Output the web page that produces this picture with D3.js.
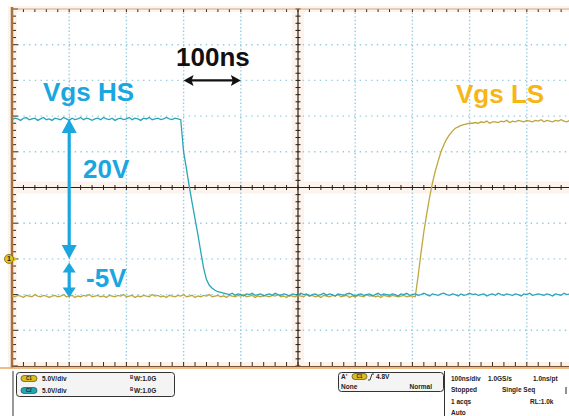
<!DOCTYPE html>
<html>
<head>
<meta charset="utf-8">
<script src="https://cdn.jsdelivr.net/npm/d3@7"></script>
<style>
  body { margin: 0; background: #fff; }
  svg { display: block; font-family: "Liberation Sans", Arial, sans-serif; }
</style>
</head>
<body>
<svg width="569" height="416"></svg>
<script>
// scope settings
const timeDomain = [-500, 500]      // ns, 100 ns/div
const voltDomain = [-15, 35]        // V, 5 V/div, ch1 ground 3 div above bottom
const xGrid = [-500, -400, -300, -200, -100, 0, 100, 200, 300, 400, 500]
const yGrid = [-15, -10, -5, 0, 5, 10, 15, 20, 25, 30, 35]
const sampleStart = -500
const sampleStep = 5

// Vgs HS (ch2) samples, one every 5 ns from -500 ns
const hsVolts = [
  19.5,19.7,19.6,19.4,19.7,19.8,19.5,19.6,19.7,19.4,
  19.6,19.8,19.5,19.6,19.4,19.7,19.6,19.5,19.8,19.6,
  19.4,19.7,19.5,19.6,19.8,19.5,19.7,19.6,19.4,19.6,
  19.7,19.5,19.8,19.6,19.5,19.7,19.4,19.6,19.7,19.5,
  19.6,19.8,19.5,19.7,19.6,19.4,19.7,19.6,19.8,19.5,
  19.6,19.7,19.5,19.6,19.8,19.6,19.5,19.7,19.6,
  19.5,15.0,12.6,10.1,7.8,5.6,3.4,1.0,-1.3,-2.9,-3.7,-4.1,-4.4,-4.6,-4.7,-4.8,
  -4.9,-5.0,-4.8,-5.1,-4.9,-5.0,-5.2,-4.9,-5.0,-4.8,
  -5.1,-5.0,-4.9,-5.2,-5.0,-4.9,-5.1,-4.8,-5.0,-5.1,
  -4.9,-5.0,-5.2,-4.9,-5.0,-5.1,-4.8,-5.0,-4.9,-5.2,
  -5.0,-4.9,-5.1,-5.0,-4.8,-5.1,-4.9,-5.0,-5.2,-4.9,
  -5.0,-5.1,-4.9,-4.8,-5.0,-5.2,-5.0,-4.9,-5.1,-5.0,
  -4.9,-5.2,-5.0,-4.8,-5.1,-4.9,-5.0,-5.1,-4.9,-5.0,
  -5.2,-4.9,-5.0,-4.8,-5.1,-5.0,-4.9,-5.1,-5.0,-4.8,
  -5.0,-5.2,-4.9,-5.0,-5.1,-4.9,-4.8,-5.0,-5.1,-4.9,
  -5.0,-5.2,-4.9,-5.1,-5.0,-4.8,-5.0,-4.9,-5.1,-5.0,
  -4.9,-5.2,-5.0,-4.9,-5.1,-4.8,-5.0,-5.1,-4.9,-5.0,
  -5.1,-4.9,-5.0,-5.2,-4.9,-5.0,-4.8,-5.1,-5.0,-4.9,
  -5.0,-5.1,-4.9,-5.0,-5.2,-4.9,-5.0,-5.1,-4.8,-5.0,
  -4.9
]

// Vgs LS (ch1) samples, same timebase
const lsVolts = [
  -5.2,-5.3,-5.1,-5.2,-5.4,-5.1,-5.2,-5.3,-5.0,-5.2,
  -5.3,-5.1,-5.2,-5.4,-5.2,-5.1,-5.3,-5.2,-5.0,-5.3,
  -5.2,-5.1,-5.4,-5.2,-5.3,-5.1,-5.2,-5.0,-5.3,-5.2,
  -5.1,-5.3,-5.2,-5.4,-5.1,-5.2,-5.3,-5.1,-5.2,-5.0,
  -5.3,-5.2,-5.1,-5.4,-5.2,-5.3,-5.1,-5.2,-5.3,-5.0,
  -5.2,-5.1,-5.3,-5.2,-5.4,-5.1,-5.2,-5.3,-5.1,-5.2,
  -5.0,-5.3,-5.2,-5.1,-5.4,-5.2,-5.3,-5.1,-5.2,-5.0,
  -5.3,-5.2,-5.1,-5.3,-5.2,-5.4,-5.1,-5.2,-5.3,-5.1,
  -5.2,-5.0,-5.3,-5.2,-5.1,-5.4,-5.2,-5.3,-5.1,-5.2,
  -5.3,-5.1,-5.2,-5.0,-5.3,-5.2,-5.4,-5.1,-5.2,-5.3,
  -5.1,-5.2,-5.3,-5.0,-5.2,-5.1,-5.3,-5.2,-5.4,-5.1,
  -5.2,-5.3,-5.1,-5.2,-5.0,-5.3,-5.2,-5.1,-5.4,-5.2,
  -5.3,-5.1,-5.2,-5.3,-5.0,-5.2,-5.1,-5.3,-5.2,-5.4,
  -5.1,-5.2,-5.3,-5.1,-5.2,-5.3,-5.2,-5.1,-5.3,-5.2,
  -5.2,-5.3,
  -2.4,0.8,3.8,6.3,8.6,10.6,12.3,13.7,15.0,16.0,
  16.8,17.4,17.9,18.3,18.5,18.7,18.8,18.9,19.0,19.0,
  19.1,19.0,19.2,19.1,19.3,19.0,19.2,19.2,19.1,19.3,
  19.2,19.4,19.1,19.3,19.2,19.4,19.3,19.2,19.4,19.3,
  19.2,19.4,19.3,19.5,19.2,19.4,19.3,19.2,19.4,19.3,
  19.5,19.3,19.2,19.4
]

// status readout text
const chanRows = [
  {name: 'C1', scale: '5.0V/div', bw: 'W:1.0G', fill: '#d8bd1c'},
  {name: 'C2', scale: '5.0V/div', bw: 'W:1.0G', fill: '#1ea8b6'}
]
const triggerLevel = '4.8V'
const acqLines = [
  ['100ns/div', '1.0GS/s', '1.0ns/pt'],
  ['Stopped', 'Single Seq', ''],
  ['1 acqs', '', 'RL:1.0k'],
  ['Auto', '', '']
]

const svg = d3.select('svg')
const x = d3.scaleLinear().domain(timeDomain).range([12, 584])
const y = d3.scaleLinear().domain(voltDomain).range([366, 9])
const pL = 12, pR = 569, pT = 9, pB = 366

svg.append('rect').attr('width', 569).attr('height', 416).attr('fill', '#fff')

// faint glow around the graticule lines
const glow = svg.append('g').attr('fill', '#fdf3ed')
glow.append('rect').attr('x', pL - 4).attr('y', pT - 3).attr('width', 9).attr('height', pB - pT + 6)
glow.append('rect').attr('x', x(0) - 6).attr('y', pT).attr('width', 12).attr('height', pB - pT)
glow.append('rect').attr('x', pL).attr('y', y(10) - 6).attr('width', pR - pL).attr('height', 12)
glow.append('rect').attr('x', pL).attr('y', pB - 4).attr('width', pR - pL).attr('height', 6)
glow.append('rect').attr('x', pL).attr('y', pT - 3).attr('width', pR - pL).attr('height', 6)

// dotted grid
const grid = svg.append('g').attr('stroke', '#95cbe2').attr('stroke-width', 1.4)
grid.selectAll('line.v').data(xGrid.filter(d => d !== 0 && d !== -500)).enter().append('line')
  .attr('x1', d => x(d)).attr('x2', d => x(d)).attr('y1', pT).attr('y2', pB)
  .attr('stroke-dasharray', '1.4,2.2')
grid.selectAll('line.h').data(yGrid.filter(d => d !== 10 && d !== -15 && d !== 35)).enter().append('line')
  .attr('x1', pL).attr('x2', pR).attr('y1', d => y(d)).attr('y2', d => y(d))
  .attr('stroke-dasharray', '1.4,4.3')

// center crosshair with minor ticks
const cross = svg.append('g').attr('stroke', '#2a1e14')
cross.append('line').attr('x1', pL).attr('x2', pR).attr('y1', y(10)).attr('y2', y(10)).attr('stroke-width', 1.2)
cross.append('line').attr('x1', x(0)).attr('x2', x(0)).attr('y1', pT).attr('y2', pB).attr('stroke-width', 1.2)
const tx = d3.range(timeDomain[0], timeDomain[1] + 1, 20)
const tv = d3.range(voltDomain[0], voltDomain[1] + 0.01, 1)
cross.selectAll('line.tx').data(tx).enter().append('line')
  .attr('x1', d => x(d)).attr('x2', d => x(d)).attr('y1', y(10) - 2.5).attr('y2', y(10) + 2.5)
cross.selectAll('line.ty').data(tv).enter().append('line')
  .attr('x1', x(0) - 2.5).attr('x2', x(0) + 2.5).attr('y1', d => y(d)).attr('y2', d => y(d))

// border ticks
const edge = svg.append('g').attr('stroke', '#3a2a1c')
edge.selectAll('line.top').data(tx).enter().append('line')
  .attr('x1', d => x(d)).attr('x2', d => x(d)).attr('y1', pT).attr('y2', pT + 3)
edge.selectAll('line.bot').data(tx).enter().append('line')
  .attr('x1', d => x(d)).attr('x2', d => x(d)).attr('y1', pB - 4).attr('y2', pB)
edge.selectAll('line.lft').data(tv).enter().append('line')
  .attr('x1', pL).attr('x2', d => pL + (d % 5 === 0 ? 6 : 4)).attr('y1', d => y(d)).attr('y2', d => y(d))
svg.append('line').attr('x1', pL).attr('x2', pR).attr('y1', pT).attr('y2', pT).attr('stroke', '#c99266').attr('stroke-width', 0.8)
svg.append('line').attr('x1', pL).attr('x2', pL).attr('y1', pT - 2).attr('y2', pB + 2).attr('stroke', '#a8703a').attr('stroke-width', 2.5)
svg.append('line').attr('x1', pL).attr('x2', pR).attr('y1', pB + 0.5).attr('y2', pB + 0.5).attr('stroke', '#7a5030').attr('stroke-width', 1.2)
svg.append('line').attr('x1', 0).attr('x2', pR).attr('y1', pB + 2).attr('y2', pB + 2).attr('stroke', '#e8a860').attr('stroke-width', 1.3)

// traces
const line = d3.line().x((d, i) => x(sampleStart + i * sampleStep)).y(d => y(d))
svg.append('defs').append('clipPath').attr('id', 'plot')
  .append('rect').attr('x', pL).attr('y', pT).attr('width', pR - pL).attr('height', pB - pT)
const traces = svg.append('g').attr('clip-path', 'url(#plot)').attr('fill', 'none').attr('stroke-width', 1.3)
traces.append('path').attr('d', line(lsVolts)).attr('stroke', '#bfa63a')
traces.append('path').attr('d', line(hsVolts)).attr('stroke', '#2aa5b8')

// ch1 ground marker
const gm = svg.append('g')
gm.append('path').attr('d', `M${pL + 2},${y(0) - 2} L${pL + 6},${y(0)} L${pL + 2},${y(0) + 2}Z`).attr('fill', '#d8bd1c')
gm.append('circle').attr('cx', 9).attr('cy', y(0)).attr('r', 4.5).attr('fill', '#e6c21e').attr('stroke', '#7a6010').attr('stroke-width', 0.8)
gm.append('text').attr('x', 9).attr('y', y(0) + 2.5).attr('text-anchor', 'middle').attr('font-size', 7).attr('font-weight', 'bold').attr('fill', '#222').text('1')

// annotations
const blue = '#1aa6de'
function dblArrow(g, xc, y1, y2, hl, hw, sw, color) {
  g.append('line').attr('x1', xc).attr('x2', xc).attr('y1', y1 + hl - 1).attr('y2', y2 - hl + 1).attr('stroke', color).attr('stroke-width', sw)
  g.append('path').attr('d', `M${xc},${y1} L${xc - hw},${y1 + hl} L${xc + hw},${y1 + hl}Z`).attr('fill', color)
  g.append('path').attr('d', `M${xc},${y2} L${xc - hw},${y2 - hl} L${xc + hw},${y2 - hl}Z`).attr('fill', color)
}
const ann = svg.append('g')
dblArrow(ann, x(-400), y(19.6), y(0), 14, 7.5, 3.2, blue)
dblArrow(ann, x(-400), y(-0.5), y(-5.4), 10, 6.5, 3.2, blue)

ann.append('line').attr('x1', x(-200) + 6).attr('x2', x(-100) - 6).attr('y1', y(25)).attr('y2', y(25)).attr('stroke', '#111').attr('stroke-width', 2.4)
ann.append('path').attr('d', `M${x(-200)},${y(25)} L${x(-200) + 10},${y(25) - 5.5} L${x(-200) + 8},${y(25)} L${x(-200) + 10},${y(25) + 5.5}Z`).attr('fill', '#111')
ann.append('path').attr('d', `M${x(-100)},${y(25)} L${x(-100) - 10},${y(25) - 5.5} L${x(-100) - 8},${y(25)} L${x(-100) - 10},${y(25) + 5.5}Z`).attr('fill', '#111')

const lab = ann.append('g').attr('font-weight', 'bold').attr('font-size', 26)
lab.append('text').attr('x', 43).attr('y', 101).attr('fill', blue).text('Vgs HS')
lab.append('text').attr('x', 456).attr('y', 103).attr('fill', '#f6b618').text('Vgs LS')
lab.append('text').attr('x', 176).attr('y', 66).attr('fill', '#111').text('100ns')
lab.append('text').attr('x', 83).attr('y', 178).attr('fill', blue).text('20V')
lab.append('text').attr('x', 86).attr('y', 287).attr('fill', blue).text('-5V')

// status readout boxes
const boxes = svg.append('g').attr('fill', '#f4f4f4').attr('stroke', '#333').attr('stroke-width', 1)
boxes.append('rect').attr('x', 16.5).attr('y', 372.5).attr('width', 158).attr('height', 24).attr('rx', 3)
boxes.append('rect').attr('x', 338.5).attr('y', 372.5).attr('width', 105).attr('height', 19).attr('rx', 3)
svg.append('line').attr('x1', 13).attr('x2', 13).attr('y1', 371).attr('y2', 416).attr('stroke', '#333')
svg.append('line').attr('x1', 444.5).attr('x2', 444.5).attr('y1', 371).attr('y2', 416).attr('stroke', '#333')

const st = svg.append('g').attr('font-size', 6.5).attr('font-weight', 'bold').attr('fill', '#222')
chanRows.forEach(function(c, i) {
  const yy = 378.5 + i * 12
  st.append('rect').attr('x', 21).attr('y', yy - 3).attr('width', 16).attr('height', 6).attr('rx', 3)
    .attr('fill', c.fill).attr('stroke', '#333').attr('stroke-width', 0.6)
  st.append('text').attr('x', 29).attr('y', yy + 1.8).attr('text-anchor', 'middle').attr('font-size', 4.5).text(c.name)
  st.append('text').attr('x', 42).attr('y', yy + 2.3).text(c.scale)
  st.append('text').attr('x', 130).attr('y', yy + 0.5).attr('font-size', 4.5).text('B')
  st.append('text').attr('x', 134).attr('y', yy + 2.3).text(c.bw)
})
st.append('text').attr('x', 341).attr('y', 379).text("A'")
st.append('rect').attr('x', 352).attr('y', 373.5).attr('width', 15).attr('height', 6).attr('rx', 3)
  .attr('fill', '#d8bd1c').attr('stroke', '#333').attr('stroke-width', 0.6)
st.append('text').attr('x', 359.5).attr('y', 378.3).attr('text-anchor', 'middle').attr('font-size', 4.5).text('C1')
st.append('path').attr('d', 'M368,380 L370,380 L372,374 L374,374').attr('fill', 'none').attr('stroke', '#222').attr('stroke-width', 0.9)
st.append('text').attr('x', 376).attr('y', 379).text(triggerLevel)
st.append('text').attr('x', 341).attr('y', 389).text('None')
st.append('text').attr('x', 432).attr('y', 389).attr('text-anchor', 'end').text('Normal')
const cols = [451, 488, 533]
acqLines.forEach(function(row, i) {
  row.forEach(function(t, j) {
    if (!t) return
    const cx = (i === 1 && j === 1) ? 502 : (i === 2 && j === 2) ? 530 : cols[j]
    st.append('text').attr('x', cx).attr('y', 381 + i * 11.3).text(t)
  })
})
st.append('line').attr('x1', 566).attr('x2', 566).attr('y1', 387).attr('y2', 394).attr('stroke', '#222').attr('stroke-width', 1)
</script>
</body>
</html>
